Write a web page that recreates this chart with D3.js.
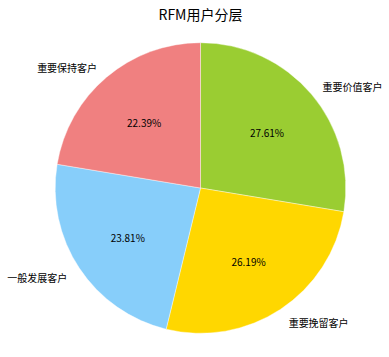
<!DOCTYPE html>
<html><head><meta charset="utf-8">
<script src="https://cdn.jsdelivr.net/npm/d3@7"></script>
<style>body{margin:0;background:#fff}svg{display:block}</style>
</head><body>
<svg id="c" width="389" height="357"></svg>
<script>
const categories = ["重要价值客户", "重要挽留客户", "一般发展客户", "重要保持客户"];
const values = [27.61, 26.19, 23.81, 22.39];
const colors = ["#9ACD32", "#FFD700", "#87CEFA", "#F08080"];
const title = "RFM用户分层";

const svg = d3.select("#c");
const W = 389, H = 357;
const cx = 200.5, cy = 188, r = 145.3;
const font = "'Noto Sans CJK SC', 'DejaVu Sans', sans-serif";

svg.append("text").attr("x", cx).attr("y", 14).attr("text-anchor", "middle")
  .attr("dominant-baseline", "central").attr("font-family", font).attr("font-size", 14)
  .attr("fill", "#000").text(title);

const data = categories.map((c, i) => ({name: c, value: values[i], color: colors[i]}));
const pie = d3.pie().value(d => d.value).sort(null);
const arcs = pie(data);
const arc = d3.arc().innerRadius(0).outerRadius(r);
const g = svg.append("g").attr("transform", `translate(${cx},${cy})`);

g.selectAll("path").data(arcs).join("path")
  .attr("d", arc).attr("fill", d => d.data.color)
  .attr("stroke", "#fff").attr("stroke-width", 0.4);

const total = d3.sum(values);
const labelArc = d3.arc().innerRadius(r * 1.1).outerRadius(r * 1.1);
const pctArc = d3.arc().innerRadius(r * 0.6).outerRadius(r * 0.6);

g.selectAll("text.lab").data(arcs).join("text").attr("class", "lab")
  .attr("x", d => labelArc.centroid(d)[0])
  .attr("y", d => labelArc.centroid(d)[1] + 1.5)
  .attr("text-anchor", d => labelArc.centroid(d)[0] >= 0 ? "start" : "end")
  .attr("dominant-baseline", "central")
  .attr("font-family", font).attr("font-size", 10).attr("fill", "#000")
  .text(d => d.data.name);

g.selectAll("text.pct").data(arcs).join("text").attr("class", "pct")
  .attr("x", d => pctArc.centroid(d)[0])
  .attr("y", d => pctArc.centroid(d)[1] + 1)
  .attr("text-anchor", "middle").attr("dominant-baseline", "central")
  .attr("font-family", font).attr("font-size", 10).attr("fill", "#000")
  .text(d => (d.data.value / total * 100).toFixed(2) + "%");
</script>
</body></html>
